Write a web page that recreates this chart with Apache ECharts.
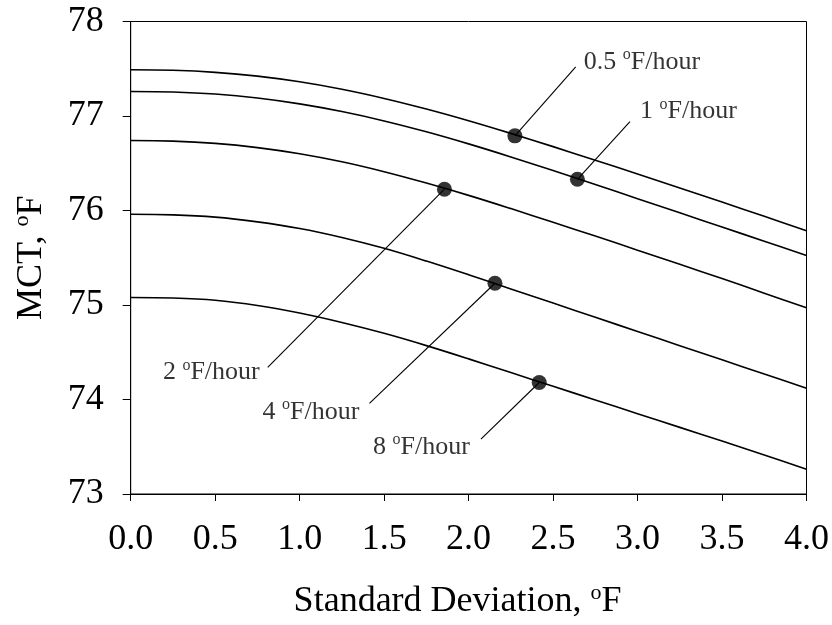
<!DOCTYPE html>
<html>
<head>
<meta charset="utf-8">
<script src="https://cdn.jsdelivr.net/npm/echarts@6/dist/echarts.min.js"></script>
<style>html,body{margin:0;padding:0;background:#fff}#c{width:832px;height:625px}</style>
</head>
<body>
<div id="c"></div>
<script>
// ---- data ----
const sdValues = [0, 0.25, 0.5, 0.75, 1.0, 1.25, 1.5, 1.75, 2.0, 2.25, 2.5, 2.75, 3.0, 3.25, 3.5, 3.75, 4.0];
const mctRate05 = [77.49, 77.484, 77.462, 77.422, 77.362, 77.283, 77.186, 77.074, 76.95, 76.816, 76.676, 76.532, 76.386, 76.238, 76.089, 75.939, 75.785];
const mctRate1  = [77.26, 77.254, 77.232, 77.19, 77.128, 77.047, 76.948, 76.833, 76.705, 76.567, 76.423, 76.275, 76.125, 75.975, 75.825, 75.675, 75.525];
const mctRate2  = [76.74, 76.734, 76.71, 76.665, 76.60, 76.515, 76.41, 76.29, 76.16, 76.02, 75.875, 75.73, 75.58, 75.43, 75.28, 75.125, 74.97];
const mctRate4  = [75.96, 75.954, 75.93, 75.88, 75.81, 75.715, 75.60, 75.465, 75.32, 75.17, 75.02, 74.87, 74.72, 74.57, 74.42, 74.27, 74.12];
const mctRate8  = [75.08, 75.074, 75.05, 74.995, 74.915, 74.815, 74.70, 74.57, 74.43, 74.285, 74.14, 73.995, 73.85, 73.705, 73.56, 73.412, 73.262];
const rateNames = ['0.5', '1', '2', '4', '8'];
const markerX = [2.274, 2.644, 1.857, 2.156, 2.418];
const markerY = [76.79, 76.33, 76.225, 75.23, 74.18];
const leaderEndX = [2.634, 2.955, 0.811, 1.413, 2.073];
const leaderEndY = [77.52, 76.94, 74.34, 73.96, 73.58];
const xTicks = [0, 0.5, 1, 1.5, 2, 2.5, 3, 3.5, 4];
const yTicks = [73, 74, 75, 76, 77, 78];

// ---- styling (not data) ----
const labelSide = ['right', 'right', 'left', 'left', 'left'];
const labelDist = [8, 10, 8, 10, 11];
const labelDy = [-5, -10, 5, 9, 8];
const FONT = '"Liberation Serif", "Times New Roman", serif';

const curves = [mctRate05, mctRate1, mctRate2, mctRate4, mctRate8];
const series = [];
curves.forEach((vals, i) => {
  series.push({
    type: 'line', smooth: 0.35, symbol: 'none', silent: true,
    lineStyle: { color: '#000', width: 1.6 },
    data: sdValues.map((x, k) => [x, vals[k]]), z: 2
  });
});
rateNames.forEach((r, i) => {
  series.push({
    type: 'line', symbol: 'none', silent: true,
    lineStyle: { color: '#000', width: 1.1 },
    data: [[markerX[i], markerY[i]], [leaderEndX[i], leaderEndY[i]]], z: 3
  });
});
series.push({
  type: 'scatter', symbol: 'circle', symbolSize: 15, silent: true,
  itemStyle: { color: '#000' },
  data: markerX.map((x, i) => [x, markerY[i]]), z: 5
});
series.push({
  type: 'scatter', symbolSize: 0, silent: true,
  data: rateNames.map((r, i) => ({
    value: [leaderEndX[i], leaderEndY[i]],
    label: {
      show: true, position: labelSide[i], distance: labelDist[i], offset: [0, labelDy[i]],
      formatter: '{n|' + r + ' }{s|o}{n|F/hour}',
      rich: {
        n: { fontFamily: FONT, fontSize: 26, color: '#000', lineHeight: 30 },
        s: { fontFamily: FONT, fontSize: 16, color: '#000', lineHeight: 18, verticalAlign: 'top' }
      }
    }
  })),
  z: 6
});

const chart = echarts.init(document.getElementById('c'), null, { renderer: 'canvas' });
chart.setOption({
  animation: false,
  backgroundColor: '#fff',
  grid: { left: 130.7, right: 24.3, top: 21.5, bottom: 130, show: true, borderColor: '#000', borderWidth: 1, backgroundColor: 'transparent' },
  xAxis: {
    type: 'value', min: xTicks[0], max: xTicks[xTicks.length - 1], interval: 0.5,
    name: '{n|Standard Deviation, }{s|o}{n|F}',
    nameLocation: 'middle', nameGap: 88,
    nameTextStyle: {
      padding: [0, 22, 0, 0],
      rich: {
        n: { fontFamily: FONT, fontSize: 36, color: '#000', lineHeight: 40 },
        s: { fontFamily: FONT, fontSize: 22, color: '#000', lineHeight: 24, verticalAlign: 'top' }
      }
    },
    axisLine: { lineStyle: { color: '#000', width: 1 } },
    axisTick: { show: true, inside: false, length: 7, lineStyle: { color: '#000' } },
    axisLabel: { fontFamily: FONT, fontSize: 36, color: '#000', margin: 28, formatter: v => v.toFixed(1) },
    splitLine: { show: false }
  },
  yAxis: {
    type: 'value', min: yTicks[0], max: yTicks[yTicks.length - 1], interval: 1,
    name: '{n|MCT, }{s|o}{n|F}',
    nameLocation: 'middle', nameGap: 79, nameRotate: 90,
    nameTextStyle: {
      rich: {
        n: { fontFamily: FONT, fontSize: 36, color: '#000', lineHeight: 40 },
        s: { fontFamily: FONT, fontSize: 22, color: '#000', lineHeight: 24, verticalAlign: 'top' }
      }
    },
    axisLine: { show: true, lineStyle: { color: '#000', width: 1 } },
    axisTick: { show: true, inside: false, length: 8, lineStyle: { color: '#000' } },
    axisLabel: { fontFamily: FONT, fontSize: 36, color: '#000', margin: 27 },
    splitLine: { show: false }
  },
  series: series
});
</script>
</body>
</html>
